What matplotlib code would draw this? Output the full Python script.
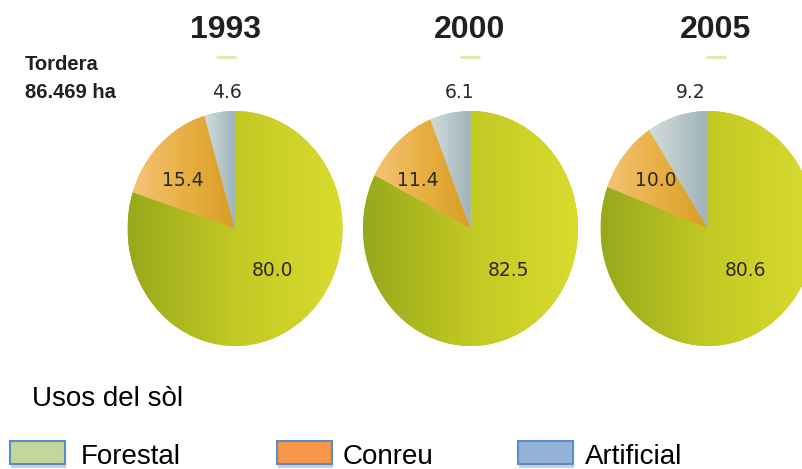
import numpy as np
import matplotlib
matplotlib.use("Agg")
import matplotlib.pyplot as plt
from matplotlib.colors import LinearSegmentedColormap
from matplotlib.patches import Rectangle

# data (% of area)
years = ["1993", "2000", "2005"]
categories = ["Forestal", "Conreu", "Artificial"]
forestal = [80.0, 82.5, 80.6]
conreu = [15.4, 11.4, 10.0]
artificial = [4.6, 6.1, 9.2]

W, H = 803, 469
fig = plt.figure(figsize=(W / 100, H / 100), dpi=100)

# background axes in pixel coordinates for the free text and legend
bg = fig.add_axes([0, 0, 1, 1])
bg.set_xlim(0, W)
bg.set_ylim(H, 0)
bg.axis("off")

grad = {
    "Forestal": LinearSegmentedColormap.from_list("f", ["#97a81b", "#c3c924", "#d9db2e"]),
    "Conreu": LinearSegmentedColormap.from_list("c", ["#f4c375", "#e8b044", "#d89d24"]),
    "Artificial": LinearSegmentedColormap.from_list("a", ["#d3dcd9", "#b9c9cb", "#9db3ba"]),
}

centers_x = [235, 470.5, 708]
title_x = [226, 470, 716]
cy, rx, ry = 228.5, 107.5, 117.5

txt_col = "#2a2a1e"
for i, yr in enumerate(years):
    vals = [forestal[i], conreu[i], artificial[i]]
    cx = centers_x[i]
    ax = fig.add_axes([(cx - rx) / W, (H - cy - ry) / H, 2 * rx / W, 2 * ry / H])
    ax.patch.set_alpha(0)
    wedges, _ = ax.pie(vals, startangle=90, counterclock=False,
                       colors=["#c0c624", "#e8b044", "#b9c9cb"],
                       wedgeprops=dict(linewidth=0))
    ax.set_aspect("auto")
    ax.axis("off")

    # horizontal gradient inside every wedge
    g = np.linspace(0, 1, 256).reshape(1, -1)
    for w, cat in zip(wedges, categories):
        x0, y0, x1, y1 = w.get_path().get_extents().extents
        im = ax.imshow(g, cmap=grad[cat], extent=[x0, x1, y0, y1],
                       aspect="auto", interpolation="bilinear", zorder=2)
        im.set_clip_path(w)
    ax.set_xlim(-1, 1)
    ax.set_ylim(-1, 1)

    # value labels
    ax.text(0.35, -0.36, f"{forestal[i]:.1f}", ha="center", va="center",
            fontsize=13.5, color=txt_col, zorder=5)
    ax.text(-0.49, 0.41, f"{conreu[i]:.1f}", ha="center", va="center",
            fontsize=13.5, color=txt_col, zorder=5)
    mid = np.deg2rad(90 + 360 * artificial[i] / 100 / 2)
    ax.text(np.cos(mid) * 0.55, 1.16, f"{artificial[i]:.1f}", ha="center",
            va="center", fontsize=13.5, color=txt_col, zorder=5, clip_on=False)

    # year title + small dash
    bg.text(title_x[i], 30, yr, ha="center", va="center", fontsize=23,
            fontweight="heavy", family="Liberation Sans", color="#231f20")
    bg.plot([title_x[i] - 10, title_x[i] + 10], [57, 57], color="#e2e8a8",
            linewidth=2, solid_capstyle="butt")

bg.text(25, 65, "Tordera", ha="left", va="center", fontsize=14.5,
        fontweight="bold", family="Liberation Sans", color="#231f20")
bg.text(25, 92, "86.469 ha", ha="left", va="center", fontsize=14.5,
        fontweight="bold", family="Liberation Sans", color="#231f20")

# legend
bg.text(32, 406, "Usos del sòl", ha="left", va="baseline", fontsize=20,
        family="Liberation Sans", color="black")
leg_fill = ["#c3d69b", "#f79646", "#95b3d7"]
box_x = [10, 277, 518]
lab_x = [81, 343, 585]
for bx, tx, fc, lab in zip(box_x, lab_x, leg_fill, categories):
    bg.add_patch(Rectangle((bx + 1, 444), 55, 24, facecolor="#d0d0d0",
                           edgecolor="none"))
    bg.add_patch(Rectangle((bx, 441), 55, 23, facecolor=fc,
                           edgecolor="#5b8bc9", linewidth=1.5))
    bg.text(tx, 464, lab, ha="left", va="baseline", fontsize=20,
            family="Liberation Sans", color="black")

fig.savefig("out.png", dpi=100, facecolor="white")
